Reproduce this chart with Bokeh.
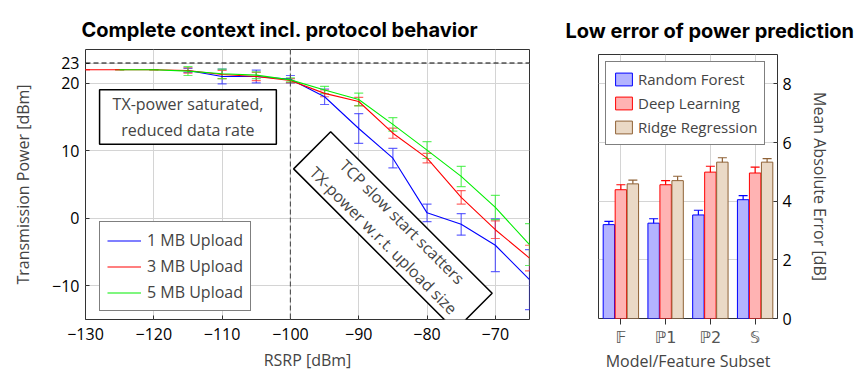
from bokeh.plotting import figure
from bokeh.models import (Range1d, FixedTicker, Span, Whisker, TeeHead, ColumnDataSource,
                          Legend, LegendItem, Label, FactorRange)
from bokeh.transform import dodge
from bokeh.layouts import row, column
from bokeh.embed import file_html
from bokeh.resources import INLINE

# ---------------- data: left chart ----------------
x_1mb = [-115, -110, -105, -100, -95, -90, -85, -80, -75, -70, -65]
y_1mb = [21.9, 21.0, 21.0, 20.6, 18.0, 13.3, 8.9, 0.8, -0.9, -4.0, -9.1]
e_1mb = [0.3, 1.1, 0.95, 0.55, 1.15, 2.2, 1.45, 1.3, 1.6, 3.9, 4.45]

x_3mb = [-130, -125, -120, -115, -110, -105, -100, -95, -90, -85, -80, -75, -70, -65]
y_3mb = [22.0, 22.0, 22.0, 21.9, 21.3, 21.0, 20.4, 18.5, 17.3, 12.6, 8.9, 3.1, -1.7, -5.9]
e_3mb = [0.0, 0.0, 0.0, 0.4, 0.6, 0.6, 0.3, 0.5, 0.6, 0.75, 0.7, 1.0, 1.3, 1.9]

x_5mb = [-125, -120, -115, -110, -105, -100, -95, -90, -85, -80, -75, -70, -65]
y_5mb = [22.0, 22.0, 21.8, 21.4, 21.2, 20.5, 19.0, 17.6, 13.9, 10.1, 6.2, 1.6, -3.9]
e_5mb = [0.0, 0.0, 0.65, 0.7, 0.5, 0.3, 0.55, 0.95, 1.0, 1.25, 1.5, 1.8, 3.1]

x_ticks = [-130, -120, -110, -100, -90, -80, -70]
y_ticks = [-10, 0, 10, 20, 23]
tx_max = 23
threshold = -100

# ---------------- data: right chart ----------------
cats = ["\U0001D53D", "\u21191", "\u21192", "\U0001D54A"]
rf = [3.2, 3.25, 3.53, 4.05]
rf_err = [0.11, 0.15, 0.16, 0.14]
dl = [4.39, 4.56, 4.99, 4.96]
dl_err = [0.17, 0.14, 0.2, 0.2]
rr = [4.59, 4.7, 5.33, 5.33]
rr_err = [0.13, 0.15, 0.15, 0.12]
mae_ticks = [0, 2, 4, 6, 8]

FONT = "Open Sans"
TFONT = "Inter"

# ================= left figure =================
p1 = figure(frame_width=444, frame_height=270,
            x_range=Range1d(-130, -65), y_range=Range1d(-15, 25),
            output_backend="svg", toolbar_location=None,
            min_border_left=85, min_border_right=24, min_border_top=49, min_border_bottom=53)
p1.title.text = "Complete context incl. protocol behavior"
p1.title.align = "left"
p1.title.offset = -4
p1.title.standoff = 13
p1.title.vertical_align = "middle"
p1.title.text_font = TFONT
p1.title.text_font_size = "20px"
p1.title.text_font_style = "bold"
p1.title.text_color = "black"
p1.outline_line_color = "#333333"

for ax in (p1.xaxis[0], p1.yaxis[0]):
    ax.major_label_text_font = FONT
    ax.major_label_text_font_size = "16px"
    ax.major_label_text_color = "black"
    ax.axis_label_text_font = FONT
    ax.axis_label_text_font_size = "16px"
    ax.axis_label_text_font_style = "normal"
    ax.axis_line_color = None
    ax.major_tick_in = 4
    ax.major_tick_out = 0
    ax.major_tick_line_color = "#333333"
    ax.minor_tick_line_color = None
p1.xaxis.major_label_standoff = 8
p1.xaxis.axis_label_standoff = 6
p1.yaxis.major_label_standoff = 6
p1.yaxis.axis_label_standoff = 15
p1.xaxis.ticker = FixedTicker(ticks=x_ticks)
p1.yaxis.ticker = FixedTicker(ticks=y_ticks)
p1.xaxis.axis_label = "RSRP [dBm]"
p1.yaxis.axis_label = "Transmission Power [dBm]"
p1.xgrid.ticker = FixedTicker(ticks=x_ticks)
p1.ygrid.ticker = FixedTicker(ticks=y_ticks)
p1.grid.grid_line_color = "#d4d4d4"
p1.grid.grid_line_width = 1

p1.add_layout(Span(location=tx_max, dimension="width", line_color="black",
                   line_dash="5 3", line_width=1))
p1.add_layout(Span(location=threshold, dimension="height", line_color="#555555",
                   line_dash="5 3", line_width=1.2))

series = [
    ("1 MB Upload", x_1mb, y_1mb, e_1mb, "#0000ff", "#3333ff"),
    ("3 MB Upload", x_3mb, y_3mb, e_3mb, "#ff0000", "#ff3333"),
    ("5 MB Upload", x_5mb, y_5mb, e_5mb, "#00ee00", "#33ee33"),
]
items = []
for name, xs, ys, es, col, ecol in series:
    src = ColumnDataSource(dict(x=xs, y=ys,
                                up=[a + b for a, b in zip(ys, es)],
                                lo=[a - b for a, b in zip(ys, es)]))
    r = p1.line("x", "y", source=src, line_color=col, line_width=1.1)
    w = Whisker(base="x", upper="up", lower="lo", source=src, line_color=ecol,
                line_alpha=0.75, line_width=1.2,
                upper_head=TeeHead(size=9, line_color=ecol, line_alpha=0.75, line_width=1.2),
                lower_head=TeeHead(size=9, line_color=ecol, line_alpha=0.75, line_width=1.2))
    p1.add_layout(w)
    items.append(LegendItem(label=name, renderers=[r]))

leg1 = Legend(items=items, location=(14, 8), label_text_font=FONT, label_text_font_size="16px",
              border_line_color="black", border_line_width=1, background_fill_alpha=1,
              glyph_width=34, glyph_height=19, label_height=20, spacing=4,
              padding=7, margin=0, label_standoff=6)
p1.add_layout(leg1)

p1.add_layout(Label(x=-115, y=15, text="TX-power saturated,\nreduced data rate",
                    text_align="center", text_baseline="middle", text_font=FONT,
                    text_font_size="16px", border_line_color="black", border_line_width=1.5,
                    background_fill_color="white", padding=dict(left=13, right=13, top=3, bottom=3)))
p1.add_layout(Label(x=-85, y=-1.9, text="TCP slow start scatters\nTX-power w.r.t. upload size",
                    angle=-45, angle_units="deg",
                    text_align="center", text_baseline="middle", text_font=FONT,
                    text_font_size="16px", border_line_color="black", border_line_width=1.5,
                    background_fill_color="white", padding=dict(left=14, right=14, top=2, bottom=2)))

# ================= right figure =================
p2 = figure(frame_width=179, frame_height=264,
            x_range=FactorRange(factors=cats), y_range=Range1d(0, 9),
            y_axis_location="right", output_backend="svg", toolbar_location=None,
            min_border_left=45, min_border_right=84, min_border_top=54, min_border_bottom=54)
p2.title.text = "Low error of power prediction"
p2.title.align = "left"
p2.title.offset = -33
p2.title.standoff = 21
p2.title.vertical_align = "middle"
p2.title.text_font = TFONT
p2.title.text_font_size = "20px"
p2.title.text_font_style = "bold"
p2.title.text_color = "black"
p2.outline_line_color = "#333333"

p2.yaxis.ticker = FixedTicker(ticks=mae_ticks)
p2.ygrid.ticker = FixedTicker(ticks=mae_ticks)
p2.grid.grid_line_color = "#d4d4d4"
p2.xaxis.axis_label = "Model/Feature Subset"
p2.yaxis.axis_label = "Mean Absolute Error [dB]"
for ax in (p2.xaxis[0], p2.yaxis[0]):
    ax.major_label_text_font = FONT
    ax.major_label_text_font_size = "16px"
    ax.major_label_text_color = "black"
    ax.axis_label_text_font = FONT
    ax.axis_label_text_font_size = "16px"
    ax.axis_label_text_font_style = "normal"
    ax.axis_line_color = None
    ax.major_tick_line_color = "#333333"
    ax.minor_tick_line_color = None
p2.yaxis.major_label_standoff = 5
p2.yaxis.axis_label_standoff = 14
p2.yaxis.major_tick_in = 4
p2.yaxis.major_tick_out = 0
p2.xaxis.major_tick_in = 0
p2.xaxis.major_tick_out = 6
p2.xaxis.major_label_standoff = 3
p2.xaxis.axis_label_standoff = 0
p2.xaxis.major_label_text_font = "DejaVu Sans"
p2.xaxis.major_label_text_font_size = "16px"
p2.xaxis.major_label_text_color = "#555555"

src2 = ColumnDataSource(dict(
    cat=cats, rf=rf, dl=dl, rr=rr,
    rf_up=[a + b for a, b in zip(rf, rf_err)], rf_lo=[a - b for a, b in zip(rf, rf_err)],
    dl_up=[a + b for a, b in zip(dl, dl_err)], dl_lo=[a - b for a, b in zip(dl, dl_err)],
    rr_up=[a + b for a, b in zip(rr, rr_err)], rr_lo=[a - b for a, b in zip(rr, rr_err)],
))
bars = [
    ("Random Forest", "rf", -0.268, "#b3b3ff", "#0000ff"),
    ("Deep Learning", "dl", 0.0, "#ffb3b3", "#ff0000"),
    ("Ridge Regression", "rr", 0.268, "#ead9c6", "#8f6236"),
]
items2 = []
for name, key, off, fill, edge in bars:
    r = p2.vbar(x=dodge("cat", off, range=p2.x_range), top=key, width=0.255, source=src2,
                fill_color=fill, line_color=edge, line_width=1)
    w = Whisker(base=dodge("cat", off, range=p2.x_range), upper=key + "_up", lower=key + "_lo",
                source=src2, line_color=edge, line_width=1.2,
                upper_head=TeeHead(size=9, line_color=edge, line_width=1.2),
                lower_head=TeeHead(size=9, line_color=edge, line_width=1.2))
    p2.add_layout(w)
    items2.append(LegendItem(label=name, renderers=[r]))

leg2 = Legend(items=items2, location="top_left", label_text_font=FONT, label_text_font_size="15px",
              border_line_color="black", border_line_width=1, background_fill_alpha=1,
              glyph_width=21, glyph_height=16, label_height=20, spacing=4,
              padding=7, margin=7, label_standoff=4)
p2.add_layout(leg2)

layout = row(column(p1), column(p2))
open("out.html", "w").write(file_html(layout, INLINE))
